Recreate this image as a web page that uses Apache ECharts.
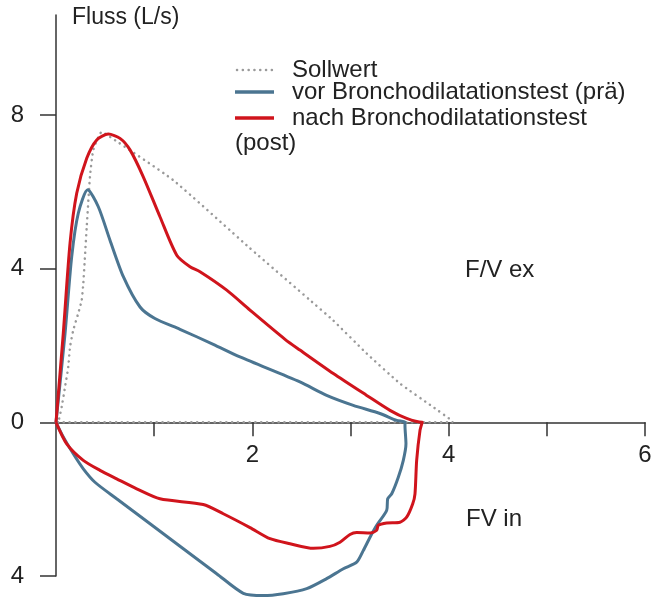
<!DOCTYPE html>
<html><head><meta charset="utf-8">
<script src="https://cdn.jsdelivr.net/npm/echarts@6/dist/echarts.min.js"></script>
<style>html,body{margin:0;padding:0;background:#fff}#c{width:651px;height:601px}</style>
</head><body><div id="c"></div>
<script>
// ---- data ----
const seriesNames = ['Sollwert', 'vor Bronchodilatationstest (prä)', 'nach Bronchodilatationstest (post)'];
const yAxisName = 'Fluss (L/s)';
const exLabel = 'F/V ex';
const inLabel = 'FV in';
const xTickValues = [1, 2, 3, 4, 5, 6];
const xLabelValues = [2, 4, 6];
const yTickValues = [-4, 0, 4, 8];

// Sollwert (predicted) loop
const sollX = [0, 0.023, 0.058, 0.092, 0.125, 0.143, 0.176, 0.227, 0.262, 0.278, 0.313, 0.346, 0.38, 0.466, 0.55, 1.19, 1.976, 2.587, 2.82, 3.165, 3.504, 3.84, 4.03, 4.04, 0];
const sollY = [0, 0.01, 0.40, 0.92, 1.44, 1.96, 2.40, 2.84, 3.18, 3.61, 5.09, 6.39, 7.09, 7.56, 7.43, 6.31, 4.53, 3.18, 2.66, 1.79, 1.01, 0.40, 0.05, 0, 0];

// vor (pre) — expiration then inspiration
const preExpX = [0, 0.092, 0.16, 0.227, 0.323, 0.431, 0.55, 0.686, 0.856, 1.008, 1.263, 1.602, 1.874, 2.485, 2.757, 3.028, 3.30, 3.47, 3.555];
const preExpY = [0, 2.31, 4.31, 5.44, 6.05, 5.61, 4.74, 3.79, 3.00, 2.70, 2.42, 2.03, 1.70, 1.05, 0.70, 0.44, 0.23, 0.05, 0];
const preInX = [3.555, 3.555, 3.565, 3.538, 3.487, 3.42, 3.379, 3.369, 3.267, 3.199, 3.13, 3.063, 2.927, 2.757, 2.554, 2.315, 2.112, 1.908, 1.637, 1.297, 0.958, 0.618, 0.397, 0.278, 0.176, 0.074, 0];
const preInY = [0, -0.08, -0.56, -0.99, -1.43, -1.86, -1.99, -2.29, -2.68, -2.99, -3.34, -3.64, -3.81, -4.07, -4.33, -4.46, -4.51, -4.45, -3.94, -3.29, -2.64, -1.99, -1.56, -1.21, -0.82, -0.38, 0];

// nach (post) — expiration then inspiration
const postExpX = [0, 0.074, 0.143, 0.211, 0.313, 0.415, 0.533, 0.652, 0.754, 0.889, 1.059, 1.23, 1.365, 1.467, 1.739, 1.976, 2.333, 2.485, 2.825, 3.165, 3.402, 3.572, 3.73];
const postExpY = [0, 2.31, 4.66, 5.96, 6.87, 7.35, 7.50, 7.39, 7.09, 6.39, 5.35, 4.35, 4.05, 3.92, 3.44, 2.92, 2.16, 1.88, 1.27, 0.70, 0.31, 0.10, 0];
const postInX = [3.735, 3.708, 3.674, 3.657, 3.634, 3.572, 3.504, 3.369, 3.283, 3.267, 3.199, 3.063, 2.995, 2.893, 2.79, 2.621, 2.384, 2.18, 1.976, 1.704, 1.50, 1.059, 0.822, 0.618, 0.448, 0.278, 0.109, 0];
const postInY = [0, -0.21, -0.99, -1.86, -2.12, -2.47, -2.60, -2.62, -2.68, -2.81, -2.88, -2.87, -2.92, -3.12, -3.23, -3.28, -3.16, -3.03, -2.74, -2.38, -2.14, -1.99, -1.73, -1.47, -1.25, -0.99, -0.56, 0];

// ---- build ----
const zip = (xs, ys) => xs.map((x, i) => [x, ys[i]]);
const sollData = zip(sollX, sollY);
const preData = zip(preExpX, preExpY).concat(zip(preInX, preInY));
const postData = zip(postExpX, postExpY).concat(zip(postInX, postInY));

const FONT = 'Liberation Sans';
const TXT = '#222';
const GRAY = '#9a9a9a';
const BLUE = '#4b7591';
const RED = '#d0141c';
const AX = '#333';
const F24 = '24px "Liberation Sans"';

const Y_MIN = -4, Y_MAX = 10.6, GRID_TOP = 15, GRID_BOTTOM = 25, H = 601;
const pxPerUnit = (H - GRID_TOP - GRID_BOTTOM) / (Y_MAX - Y_MIN);
const zeroOffset = -(0 - Y_MIN) * pxPerUnit; // move x axis up to y = 0

const chart = echarts.init(document.getElementById('c'), null, {renderer: 'canvas'});
chart.setOption({
  animation: false,
  backgroundColor: '#fff',
  grid: {left: 56, right: 6, top: GRID_TOP, bottom: GRID_BOTTOM, containLabel: false, outerBoundsMode: 'none'},
  xAxis: {
    type: 'value', min: 0, max: 6, interval: 1, position: 'bottom', offset: zeroOffset,
    axisLine: {onZero: false, lineStyle: {color: AX, width: 1.5}},
    axisTick: {show: true, length: 14, customValues: xTickValues, lineStyle: {color: AX, width: 1.5}},
    axisLabel: {customValues: xLabelValues, margin: 21, fontSize: 24, color: TXT, fontFamily: FONT},
    splitLine: {show: false}
  },
  yAxis: {
    type: 'value', min: Y_MIN, max: Y_MAX, interval: 4,
    axisLine: {show: true, onZero: false, lineStyle: {color: AX, width: 1.5}},
    axisTick: {show: true, length: 16, customValues: yTickValues, lineStyle: {color: AX, width: 1.5}},
    axisLabel: {customValues: yTickValues, margin: 32, fontSize: 24, color: TXT, fontFamily: FONT,
      formatter: v => String(Math.abs(v))},
    splitLine: {show: false}
  },
  series: [
    {name: seriesNames[0], type: 'line', data: sollData, showSymbol: false, clip: false, smooth: 0.15, z: 3,
      lineStyle: {color: GRAY, width: 2.5, type: [0.1, 5.7], cap: 'round'}},
    {name: seriesNames[1], type: 'line', data: preData, showSymbol: false, clip: false, smooth: 0.25, z: 4,
      lineStyle: {color: BLUE, width: 3}},
    {name: seriesNames[2], type: 'line', data: postData, showSymbol: false, clip: false, smooth: 0.25, z: 5,
      lineStyle: {color: RED, width: 3}}
  ],
  graphic: [
    {type: 'text', x: 72, y: 18, style: {text: yAxisName, font: '23px "Liberation Sans"', fill: TXT, verticalAlign: 'middle'}},
    {type: 'line', shape: {x1: 237, y1: 70, x2: 273, y2: 70}, style: {stroke: GRAY, lineWidth: 2.5, lineDash: [0.1, 5.7], lineCap: 'round'}},
    {type: 'text', x: 292, y: 70, style: {text: seriesNames[0], font: F24, fill: TXT, verticalAlign: 'middle'}},
    {type: 'line', shape: {x1: 235, y1: 92, x2: 274, y2: 92}, style: {stroke: BLUE, lineWidth: 3.5}},
    {type: 'text', x: 292, y: 92, style: {text: seriesNames[1], font: F24, fill: TXT, verticalAlign: 'middle'}},
    {type: 'line', shape: {x1: 235, y1: 118, x2: 274, y2: 118}, style: {stroke: RED, lineWidth: 3.5}},
    {type: 'text', x: 292, y: 118, style: {text: 'nach Bronchodilatationstest', font: F24, fill: TXT, verticalAlign: 'middle'}},
    {type: 'text', x: 235, y: 143, style: {text: '(post)', font: F24, fill: TXT, verticalAlign: 'middle'}},
    {type: 'text', x: 465, y: 270, style: {text: exLabel, font: F24, fill: TXT, verticalAlign: 'middle'}},
    {type: 'text', x: 466, y: 519, style: {text: inLabel, font: F24, fill: TXT, verticalAlign: 'middle'}}
  ]
});
</script>
</body></html>
